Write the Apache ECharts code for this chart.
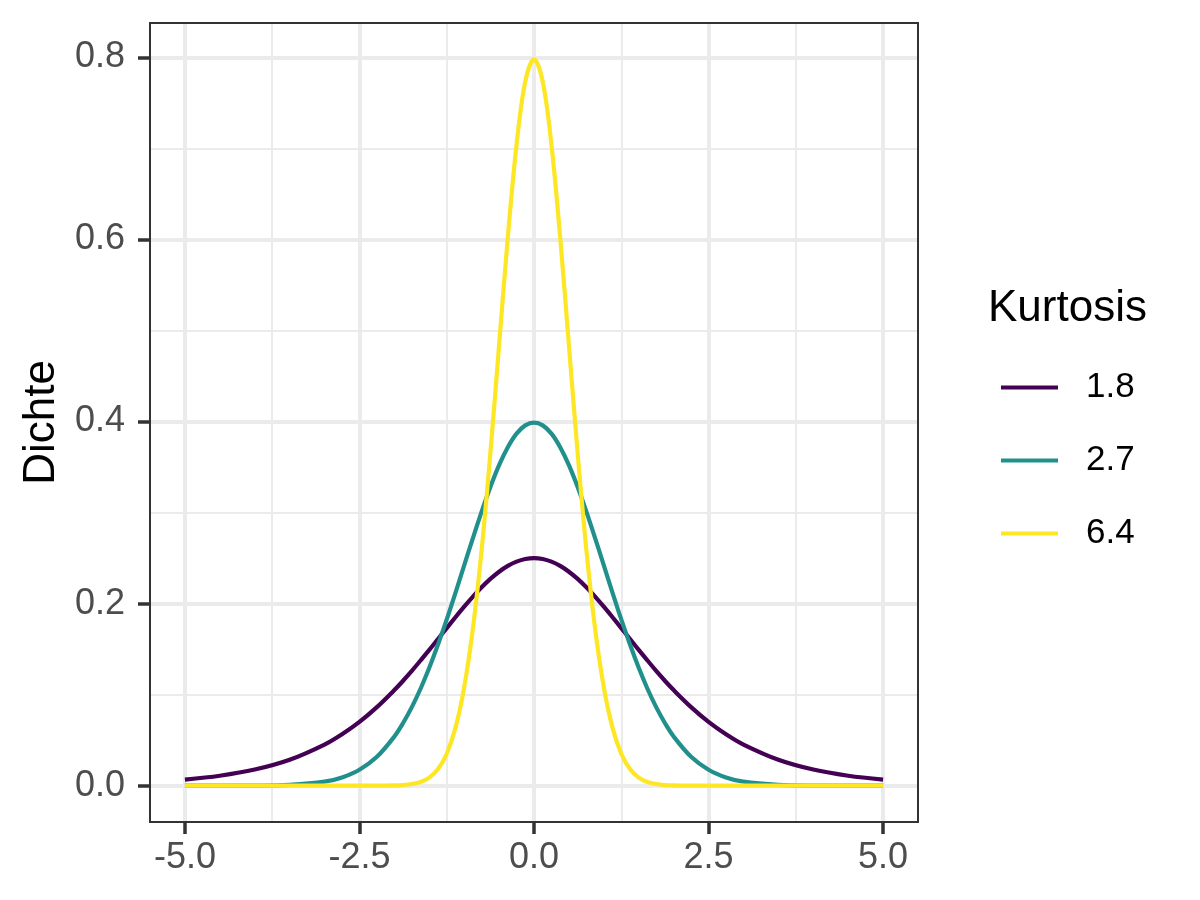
<!DOCTYPE html>
<html>
<head>
<meta charset="utf-8">
<script src="https://cdn.jsdelivr.net/npm/echarts@6/dist/echarts.min.js"></script>
<style>html,body{margin:0;padding:0;background:#fff}#c{width:1200px;height:900px}</style>
</head>
<body>
<div id="c"></div>
<script>
const xs = [-5, -4.5, -4, -3.5, -3, -2.75, -2.5, -2.25, -2, -1.875, -1.75, -1.625, -1.5, -1.375, -1.25, -1.125, -1, -0.875, -0.75, -0.625, -0.5, -0.375, -0.25, -0.125, 0, 0.125, 0.25, 0.375, 0.5, 0.625, 0.75, 0.875, 1, 1.125, 1.25, 1.375, 1.5, 1.625, 1.75, 1.875, 2, 2.25, 2.5, 2.75, 3, 3.5, 4, 4.5, 5];
const k18 = [0.0066, 0.0109, 0.0177, 0.0285, 0.0452, 0.0565, 0.0701, 0.0863, 0.1050, 0.1153, 0.1261, 0.1375, 0.1491, 0.1611, 0.1731, 0.1850, 0.1966, 0.2077, 0.2179, 0.2271, 0.2350, 0.2414, 0.2461, 0.2490, 0.2500, 0.2490, 0.2461, 0.2414, 0.2350, 0.2271, 0.2179, 0.2077, 0.1966, 0.1850, 0.1731, 0.1611, 0.1491, 0.1375, 0.1261, 0.1153, 0.1050, 0.0863, 0.0701, 0.0565, 0.0452, 0.0285, 0.0177, 0.0109, 0.0066];
const k27 = [0.0000, 0.0000, 0.0001, 0.0009, 0.0044, 0.0091, 0.0175, 0.0317, 0.0540, 0.0688, 0.0863, 0.1065, 0.1295, 0.1550, 0.1826, 0.2119, 0.2420, 0.2720, 0.3011, 0.3281, 0.3521, 0.3718, 0.3867, 0.3958, 0.3989, 0.3958, 0.3867, 0.3718, 0.3521, 0.3281, 0.3011, 0.2720, 0.2420, 0.2119, 0.1826, 0.1550, 0.1295, 0.1065, 0.0863, 0.0688, 0.0540, 0.0317, 0.0175, 0.0091, 0.0044, 0.0009, 0.0001, 0.0000, 0.0000];
const k64 = [0.0000, 0.0000, 0.0000, 0.0000, 0.0000, 0.0000, 0.0000, 0.0000, 0.0003, 0.0007, 0.0018, 0.0041, 0.0089, 0.0182, 0.0351, 0.0635, 0.1080, 0.1726, 0.2590, 0.3653, 0.4839, 0.6023, 0.7041, 0.7734, 0.7979, 0.7734, 0.7041, 0.6023, 0.4839, 0.3653, 0.2590, 0.1726, 0.1080, 0.0635, 0.0351, 0.0182, 0.0089, 0.0041, 0.0018, 0.0007, 0.0003, 0.0000, 0.0000, 0.0000, 0.0000, 0.0000, 0.0000, 0.0000, 0.0000];
const seriesNames = ['1.8', '2.7', '6.4'];
const xMajor = [-5, -2.5, 0, 2.5, 5];
const xMinor = [-3.75, -1.25, 1.25, 3.75];
const yMajor = [0, 0.2, 0.4, 0.6, 0.8];
const yMinor = [0.1, 0.3, 0.5, 0.7];

const colors = ['#440154', '#21908C', '#FDE725'];
const font = 'Liberation Sans, Arial, Helvetica, sans-serif';
const pair = ys => xs.map((x, i) => [x, ys[i]]);
const grid = {left: 150, top: 23, width: 768, height: 799, show: true, borderColor: '#333333', borderWidth: 2, backgroundColor: 'transparent', z: 5};

const chart = echarts.init(document.getElementById('c'), null, {renderer: 'canvas'});
chart.setOption({
  animation: false,
  backgroundColor: '#ffffff',
  title: {text: 'Kurtosis', left: 983, top: 282, textStyle: {fontFamily: font, fontSize: 44, fontWeight: 'normal', color: '#000'}},
  legend: {
    orient: 'vertical', left: 996, top: 365,
    icon: 'rect', itemWidth: 57, itemHeight: 4, itemGap: 38,
    data: seriesNames,
    textStyle: {fontFamily: font, fontSize: 35, color: '#000', padding: [0, 0, 0, 23]}
  },
  grid: grid,
  xAxis: [
    {type: 'value', min: -5.5, max: 5.5, position: 'bottom',
     axisLine: {show: false, onZero: false},
     axisTick: {show: true, length: 12, customValues: xMajor, lineStyle: {color: '#333333', width: 3.5}},
     axisLabel: {customValues: xMajor, margin: 18, fontFamily: font, fontSize: 36, color: '#4D4D4D', formatter: v => v.toFixed(1)},
     splitLine: {show: true, lineStyle: {color: '#EBEBEB', width: 4}}},
    {type: 'value', min: -5.5, max: 5.5, position: 'top',
     axisLine: {show: false, onZero: false}, axisTick: {show: false, customValues: xMinor}, axisLabel: {show: false, customValues: xMinor},
     splitLine: {show: true, lineStyle: {color: '#EBEBEB', width: 2}}}
  ],
  yAxis: [
    {type: 'value', min: -0.0399, max: 0.8378, position: 'left',
     name: 'Dichte', nameLocation: 'middle', nameRotate: 90, nameGap: 86,
     nameTextStyle: {fontFamily: font, fontSize: 44, color: '#000'},
     axisLine: {show: false, onZero: false},
     axisTick: {show: true, length: 12, customValues: yMajor, lineStyle: {color: '#333333', width: 3.5}},
     axisLabel: {customValues: yMajor, margin: 25, fontFamily: font, fontSize: 36, color: '#4D4D4D', formatter: v => v.toFixed(1)},
     splitLine: {show: true, lineStyle: {color: '#EBEBEB', width: 4}}},
    {type: 'value', min: -0.0399, max: 0.8378, position: 'right',
     axisLine: {show: false, onZero: false}, axisTick: {show: false, customValues: yMinor}, axisLabel: {show: false, customValues: yMinor},
     splitLine: {show: true, lineStyle: {color: '#EBEBEB', width: 2}}}
  ],
  series: [k18, k27, k64].map((ys, i) => ({
    name: seriesNames[i], type: 'line', xAxisIndex: 0, yAxisIndex: 0,
    data: pair(ys), showSymbol: false, symbol: 'none', smooth: 0.35,
    lineStyle: {color: colors[i], width: 4.2}, itemStyle: {color: colors[i]}, z: 2 + i
  }))
});
</script>
</body>
</html>
